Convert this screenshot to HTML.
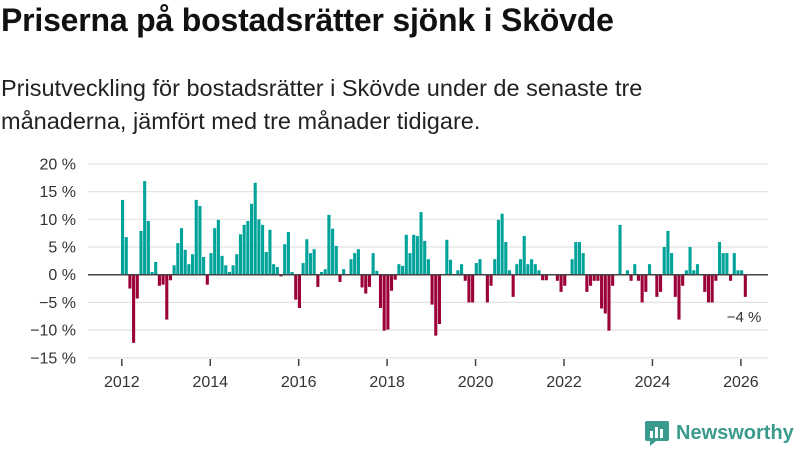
<!DOCTYPE html>
<html><head><meta charset="utf-8">
<style>
body{margin:0;background:#fff;width:800px;height:450px;overflow:hidden;font-family:"Liberation Sans",sans-serif;}
#title{position:absolute;left:1px;top:2px;font-size:32px;font-weight:bold;color:#111;margin:0;letter-spacing:-0.2px;white-space:nowrap}
#sub{position:absolute;left:1px;top:72px;font-size:23.5px;line-height:33px;color:#222;margin:0;width:680px}
svg{position:absolute;left:0;top:0}
</style></head><body>
<h1 id="title">Priserna på bostadsrätter sjönk i Skövde</h1>
<p id="sub">Prisutveckling för bostadsrätter i Skövde under de senaste tre månaderna, jämfört med tre månader tidigare.</p>
<svg id="chart" width="800" height="450"></svg>
<script>
const values=[13.5,6.8,-2.5,-12.3,-4.3,7.9,16.9,9.7,0.5,2.3,-2,-1.8,-8.1,-1,1.7,5.7,8.4,4.5,1.9,3.7,13.5,12.4,3.2,-1.8,
3.9,8.4,9.9,3.4,1.7,0.5,1.7,3.7,7.3,9,9.7,12.8,16.6,10,9,4.1,8.1,1.9,1.4,-0.3,5.5,7.7,0.5,-4.5,
-6,2.1,6.4,3.9,4.6,-2.2,0.5,1,10.8,8.3,5.2,-1.3,1,0,2.8,3.9,4.6,-2.3,-3.4,-2.2,3.9,0.7,-6,-10.1,
-9.9,-2.9,-0.9,1.9,1.6,7.2,3.9,7.2,7,11.3,6.1,2.8,-5.4,-11,-8.9,0,6.3,2.7,0,0.8,1.9,-1.1,-5,-5,
2.1,2.8,0,-5,-2,2.8,9.9,11,5.9,0.8,-4,1.9,2.8,7,1.9,2.8,1.9,0.8,-1,-1,0,0,-1.1,-3.1,
-2,0,2.8,5.9,5.9,3.9,-3.1,-2,-1.1,-1.1,-6.1,-7,-10.1,-2,0,9,0,0.8,-1.1,1.9,-1.1,-5,-3.1,1.9,
0,-4,-3.1,5,7.9,3.9,-4,-8.1,-2,0.8,5,0.8,1.9,0,-3.1,-5,-5,-1.1,5.9,3.9,3.9,-1.1,3.9,0.8,
0.8,-4];
const startYear=2012;
const yTicks=[20,15,10,5,0,-5,-10,-15];
const xTickYears=[2012,2014,2016,2018,2020,2022,2024,2026];
const lastLabel="−4 %";

const svg=document.getElementById('chart');
const NS="http://www.w3.org/2000/svg";
const y=v=>274.7-v*5.54;
const x=i=>121+i*3.685;
function mk(t,a){const e=document.createElementNS(NS,t);for(const k in a)e.setAttribute(k,a[k]);svg.appendChild(e);return e;}
yTicks.forEach(t=>{
  const l=mk('line',{x1:88,x2:768,y1:y(t),y2:y(t),stroke:'#e2e2e2','stroke-width':1.2});
  
  
  const tx=mk('text',{x:76,y:y(t)+5.5,'text-anchor':'end','font-size':16,fill:'#333','font-family':'Liberation Sans, sans-serif'});
  tx.textContent=(t<0?'−'+(-t):t)+' %';
  
  
});
values.forEach((v,i)=>{
  const r=mk('rect',{x:x(i),width:3.1,y:Math.min(y(v),y(0)),height:Math.abs(y(v)-y(0)),fill:v>=0?'#00a39a':'#9b0039'});
  
  
});
const z=mk('line',{x1:88,x2:768,y1:y(0),y2:y(0),stroke:'#444','stroke-width':1.5});


xTickYears.forEach(yr=>{
  const i=(yr-startYear)*12;
  const t=mk('line',{x1:x(i)+0.8,x2:x(i)+0.8,y1:359,y2:366,stroke:'#444','stroke-width':1.5});
  
  
  const tx=mk('text',{x:x(i)+0.8,y:387,'text-anchor':'middle','font-size':16,fill:'#333','font-family':'Liberation Sans, sans-serif'});
  tx.textContent=yr;
  
  
});
const ll=mk('text',{x:744,y:322,'text-anchor':'middle','font-size':15,fill:'#333','font-family':'Liberation Sans, sans-serif'});
ll.textContent=lastLabel;


</script>
<div style="position:absolute;left:644px;top:419px;display:flex;align-items:center">
<svg width="26" height="28" style="position:static"><path d="M3 2h20a2 2 0 0 1 2 2v16a2 2 0 0 1-2 2H12l-6 5v-5H3a2 2 0 0 1-2-2V4a2 2 0 0 1 2-2z" fill="#3a9a8c"/><rect x="6" y="12" width="3" height="7" fill="#fff"/><rect x="11" y="8" width="3" height="11" fill="#fff"/><rect x="16" y="10" width="3" height="9" fill="#fff"/></svg>
<span style="font-size:20px;font-weight:bold;color:#3a9a8c;margin-left:6px">Newsworthy</span>
</div>
</body></html>
